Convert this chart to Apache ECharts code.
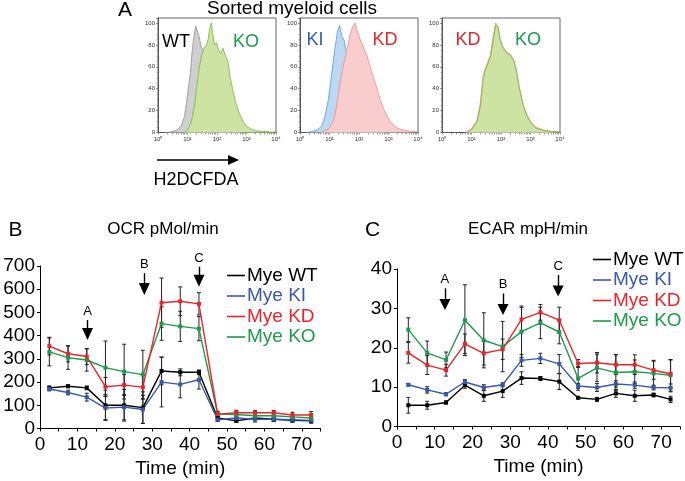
<!DOCTYPE html>
<html>
<head>
<meta charset="utf-8">
<script src="https://cdn.jsdelivr.net/npm/echarts@6.0.0/dist/echarts.min.js"></script>
<style>html,body{margin:0;padding:0;background:#fff}#c{width:685px;height:481px}</style>
</head>
<body>
<div id="c"></div>
<script>
// ---------- Panel A histograms: [log10 fluorescence, % of max] ----------
const h1WT = [[0.25,0],[0.40,0.3],[0.62,2],[0.79,6],[0.90,15],[0.98,30],[1.05,45],[1.10,55],[1.16,75],[1.22,88],[1.28,97],[1.33,93],[1.39,88],[1.45,80],[1.50,76],[1.56,70],[1.65,58],[1.80,35],[2.00,14],[2.20,5],[2.50,1],[2.80,0]];
const h1KO = [[0.90,0],[1.02,3],[1.13,10],[1.24,25],[1.32,42],[1.39,58],[1.47,70],[1.56,77],[1.64,80],[1.70,85],[1.75,95],[1.81,100],[1.86,90],[1.92,80],[1.98,82],[2.06,75],[2.13,72],[2.20,77],[2.29,70],[2.37,65],[2.45,50],[2.54,38],[2.63,28],[2.75,18],[2.88,10],[2.99,6],[3.16,3],[3.33,1.5],[3.56,1],[3.79,0.5],[4.0,0.3]];
const h2KI = [[0.20,0],[0.34,0.5],[0.57,2],[0.74,6],[0.85,15],[0.96,30],[1.08,55],[1.19,78],[1.27,92],[1.34,98],[1.42,88],[1.50,84],[1.59,70],[1.70,45],[1.87,20],[2.04,8],[2.27,2],[2.60,0.5],[2.9,0]];
const h2KD = [[0.68,0],[0.96,3],[1.13,10],[1.25,25],[1.36,45],[1.47,62],[1.59,75],[1.70,90],[1.79,97],[1.87,100],[1.95,92],[2.04,85],[2.15,78],[2.27,70],[2.38,60],[2.49,50],[2.61,40],[2.72,30],[2.83,22],[2.95,15],[3.06,10],[3.23,5],[3.40,3],[3.74,1],[4.0,0.5]];
const h3KD = [[0.80,0],[1.00,3.5],[1.18,11],[1.30,27],[1.39,51],[1.47,59],[1.55,64],[1.64,71],[1.73,87],[1.82,100],[1.90,97],[1.97,86],[2.05,79],[2.13,76],[2.22,73],[2.33,71],[2.44,66],[2.53,56],[2.61,43],[2.69,33],[2.78,23],[2.90,15],[3.03,9],[3.18,5],[3.41,2.5],[3.69,1],[4.0,0.4]];
const h3KO = [[0.85,0],[1.02,3],[1.19,10],[1.31,25],[1.40,50],[1.48,58],[1.56,63],[1.65,70],[1.74,85],[1.82,98],[1.90,96],[1.97,85],[2.05,78],[2.13,75],[2.22,72],[2.33,70],[2.44,65],[2.53,55],[2.61,42],[2.69,32],[2.78,22],[2.90,14],[3.03,8],[3.18,4],[3.41,2],[3.69,1],[4.0,0.3]];
const histTickLabels = ['10\u2070','10\u00b9','10\u00b2','10\u00b3','10\u2074'];

// ---------- Panels B and C ----------
const timeB = [2.5,7.5,12.5,17.5,22.5,27.5,32.5,37.5,42.5,47.5,52.5,57.5,62.5,67.5,72.5];
const timeC = [3,8,13,18,23,28,33,38,43,48,53,58,63,68,72.5];
const seriesNames = ['Mye WT','Mye KI','Mye KD','Mye KO'];
const colors = ['#000000','#3a5aa8','#e8252b','#1d9a4c'];

const ocrWT = [175,182,175,100,100,90,248,242,242,45,33,45,40,35,33];
const ocrKI = [170,155,135,88,92,82,200,190,210,38,45,40,40,38,35];
const ocrKD = [355,322,310,180,187,178,542,548,537,62,68,68,68,58,58];
const ocrKO = [330,305,295,262,245,232,452,440,430,62,60,55,55,50,45];
const ocrErrWT = [8,6,8,65,68,68,60,15,10,8,6,10,10,8,8];
const ocrErrKI = [8,10,17,50,55,60,107,58,40,8,8,12,10,6,12];
const ocrErrKD = [38,35,35,40,45,50,106,62,48,10,10,10,10,12,15];
const ocrErrKO = [60,50,48,115,118,105,72,65,52,10,12,15,12,10,15];

const ecarWT = [5.4,5.4,6.1,10.5,7.8,9.0,12.3,12.2,11.4,7.3,6.9,8.4,7.8,8.0,6.9];
const ecarKI = [10.6,9.3,8.2,11.3,9.9,10.6,16.8,17.3,15.9,10.3,9.9,10.8,10.5,9.9,9.8];
const ecarKD = [18.7,15.6,14.3,21.0,18.6,19.6,27.2,29.0,27.0,16.0,16.2,15.7,15.7,14.3,13.4];
const ecarKO = [24.6,18.7,16.9,27.0,21.9,20.3,24.1,26.3,24.0,12.2,14.9,13.7,13.9,13.5,13.0];
const ecarErrWT = [2,1,0.4,0.8,1.4,1.6,1.6,0.5,2,0.3,0.5,1,1.4,0.5,0.8];
const ecarErrKI = [0.3,0.8,0.4,0.6,0.7,0.5,1.5,1.3,2.4,0.6,1.0,0.8,0.8,0.6,1.0];
const ecarErrKD = [2.6,2.4,1.5,2.5,3,2.6,3,2,3.3,1.0,2.6,2.5,2.5,2.3,3.5];
const ecarErrKO = [3,3,2,9,7,6.4,6.5,4,3,3,3.5,4.6,3,3.3,4];

// injection arrows: [label, time, line top value, arrow-head centre value]
const ocrArrows = [['A',12.7,467,407],['B',27.9,669,601],['C',42.5,697,637]];
const ecarArrows = [['A',12.7,35.1,31.0],['B',28.1,33.8,29.7],['C',42.7,38.5,34.4]];

const FONT = 'Liberation Sans, Arial, Helvetica, sans-serif';

const chart = echarts.init(document.getElementById('c'), null, {renderer:'canvas'});

function zip(xs, ys){ return xs.map((x,i)=>[x, ys[i]]); }
function errData(xs, ys, es){ return xs.map((x,i)=>[x, ys[i]-es[i], ys[i]+es[i]]); }
function errRender(params, api){
  const x = api.value(0), lo = api.value(1), hi = api.value(2);
  const p1 = api.coord([x, hi]), p2 = api.coord([x, lo]);
  const w = 2, st = {stroke:'#222', lineWidth:1};
  return {type:'group', children:[
    {type:'line', shape:{x1:p1[0],y1:p1[1],x2:p2[0],y2:p2[1]}, style:st},
    {type:'line', shape:{x1:p1[0]-w,y1:p1[1],x2:p1[0]+w,y2:p1[1]}, style:st},
    {type:'line', shape:{x1:p2[0]-w,y1:p2[1],x2:p2[0]+w,y2:p2[1]}, style:st}
  ]};
}

const logTicks = [];
for (let d=0; d<4; d++) for (let m=1; m<10; m++) logTicks.push(d+Math.log10(m));
logTicks.push(4);

function histX(i){
  return {type:'value', gridIndex:i, min:0, max:4,
    axisLine:{show:true, lineStyle:{color:'#555', width:1}},
    axisTick:{show:true, length:2, lineStyle:{color:'#555', width:0.6}, customValues:logTicks},
    axisLabel:{customValues:[0,1,2,3,4], formatter:v=>histTickLabels[Math.round(v)], fontSize:6, color:'#333', margin:4, fontFamily:FONT},
    splitLine:{show:false}};
}
function histY(i){
  return {type:'value', gridIndex:i, min:0, max:104.6, interval:20,
    axisLine:{show:true, lineStyle:{color:'#555', width:1}},
    axisTick:{show:true, length:2, lineStyle:{color:'#555', width:0.6}},
    minorTick:{show:true, splitNumber:4, length:1.5, lineStyle:{color:'#777', width:0.5}},
    axisLabel:{formatter:v=> (v%20===0 ? String(v) : ''), fontSize:6, color:'#333', margin:3, fontFamily:FONT},
    splitLine:{show:false}};
}
function histSeries(i, data, fill, stroke, z){
  return {type:'line', xAxisIndex:i, yAxisIndex:i, data:data, showSymbol:false, symbol:'none',
    lineStyle:{color:stroke, width:0.8}, areaStyle:{color:fill, opacity:1}, z:z, silent:true, animation:false};
}

function lineSeries(idx, name, xs, ys, color){
  return {type:'line', name:name, xAxisIndex:idx, yAxisIndex:idx, data:zip(xs, ys),
    symbol:'rect', symbolSize:4, showSymbol:true, lineStyle:{color:color, width:1.4},
    itemStyle:{color:color}, z:4, animation:false};
}
function errSeries(idx, xs, ys, es){
  return {type:'custom', xAxisIndex:idx, yAxisIndex:idx, data:errData(xs, ys, es),
    renderItem:errRender, encode:{x:0, y:[1,2]}, z:3, silent:true, animation:false};
}
function arrowSeries(idx, arrows, fontSize, headSize){
  return {type:'line', xAxisIndex:idx, yAxisIndex:idx, data:[], animation:false, silent:true,
    markLine:{silent:true, animation:false, symbol:['none','triangle'], symbolSize:headSize,
      lineStyle:{color:'#000', width:1.4, type:'solid'},
      label:{show:true, position:'start', formatter:'{b}', color:'#000', fontSize:fontSize, fontFamily:FONT, distance:2},
      data: arrows.map(a=>[{name:a[0], coord:[a[1], a[2]]}, {coord:[a[1], a[3]]}])}};
}

function legendCfg(left, top, gap){
  return {left:left, top:top, orient:'vertical', icon:'rect', itemWidth:18, itemHeight:1.6, itemGap:gap, padding:0,
    textStyle:{fontSize:19, fontFamily:FONT, padding:[0,0,0,-3]},
    data: seriesNames.map((n,i)=>({name:n, textStyle:{color:colors[i]}})),
    selectedMode:false};
}

const mainX = (i, name)=>({type:'value', gridIndex:i, min:0, max:75, interval:10,
  axisLine:{show:true, lineStyle:{color:'#000', width:1}},
  axisTick:{show:true, length:3, lineStyle:{color:'#000'}},
  minorTick:{show:true, splitNumber:2, length:3, lineStyle:{color:'#000'}},
  axisLabel:{fontSize:19, color:'#000', fontFamily:FONT, margin:7, showMaxLabel:false},
  splitLine:{show:false}, minorSplitLine:{show:false},
  name:name, nameLocation:'middle', nameGap:31, nameTextStyle:{fontSize:19, color:'#000', fontFamily:FONT}});
const mainY = (i, max, interval)=>({type:'value', gridIndex:i, min:0, max:max, interval:interval,
  axisLine:{show:true, lineStyle:{color:'#000', width:1}},
  axisTick:{show:true, length:3, lineStyle:{color:'#000'}},
  axisLabel:{fontSize:19, color:'#000', fontFamily:FONT, margin:5},
  splitLine:{show:false}});

const gridBase = {containLabel:false, outerBoundsMode:'none'};
const option = {
  backgroundColor:'#fff',
  animation:false,
  grid:[
    Object.assign({left:158, top:18, width:118, height:114.5, show:true, borderColor:'#666', borderWidth:1, backgroundColor:'transparent'}, gridBase),
    Object.assign({left:300, top:18, width:118, height:114.5, show:true, borderColor:'#666', borderWidth:1, backgroundColor:'transparent'}, gridBase),
    Object.assign({left:442, top:18, width:118, height:114.5, show:true, borderColor:'#666', borderWidth:1, backgroundColor:'transparent'}, gridBase),
    Object.assign({left:40, top:266, width:280.5, height:162.5}, gridBase),
    Object.assign({left:397, top:269, width:283, height:157.5}, gridBase)
  ],
  xAxis:[histX(0), histX(1), histX(2), mainX(3,'Time (min)'), mainX(4,'Time (min)')],
  yAxis:[histY(0), histY(1), histY(2), mainY(3,700,100), mainY(4,40,10)],
  legend:[
    legendCfg(227, 266, 1.5),
    legendCfg(593, 250, 1.5)
  ],
  graphic:[
    {type:'text', x:125, y:10, style:{text:'A', fontSize:21, fontFamily:FONT, fill:'#000', align:'center', verticalAlign:'middle'}},
    {type:'text', x:292, y:9, style:{text:'Sorted myeloid cells', fontSize:19, fontFamily:FONT, fill:'#000', align:'center', verticalAlign:'middle'}},
    {type:'text', x:176, y:42, z:10, style:{text:'WT', fontSize:18, fontFamily:FONT, fill:'#000', align:'center', verticalAlign:'middle'}},
    {type:'text', x:246, y:42, z:10, style:{text:'KO', fontSize:18, fontFamily:FONT, fill:'#1d9a4c', align:'center', verticalAlign:'middle'}},
    {type:'text', x:315, y:40, z:10, style:{text:'KI', fontSize:18, fontFamily:FONT, fill:'#2f5fae', align:'center', verticalAlign:'middle'}},
    {type:'text', x:385, y:40, z:10, style:{text:'KD', fontSize:18, fontFamily:FONT, fill:'#e0282e', align:'center', verticalAlign:'middle'}},
    {type:'text', x:468, y:40, z:10, style:{text:'KD', fontSize:18, fontFamily:FONT, fill:'#e0282e', align:'center', verticalAlign:'middle'}},
    {type:'text', x:528, y:40, z:10, style:{text:'KO', fontSize:18, fontFamily:FONT, fill:'#1d9a4c', align:'center', verticalAlign:'middle'}},
    {type:'line', shape:{x1:157, y1:160, x2:230, y2:160}, style:{stroke:'#000', lineWidth:1.4}},
    {type:'polygon', shape:{points:[[228,155],[239,160],[228,165]]}, style:{fill:'#000'}},
    {type:'text', x:196, y:180, style:{text:'H2DCFDA', fontSize:18, fontFamily:FONT, fill:'#000', align:'center', verticalAlign:'middle'}},
    {type:'text', x:15.5, y:230, style:{text:'B', fontSize:21, fontFamily:FONT, fill:'#000', align:'center', verticalAlign:'middle'}},
    {type:'text', x:163, y:229, style:{text:'OCR pMol/min', fontSize:17, fontFamily:FONT, fill:'#000', align:'center', verticalAlign:'middle'}},
    {type:'text', x:372.5, y:230, style:{text:'C', fontSize:21, fontFamily:FONT, fill:'#000', align:'center', verticalAlign:'middle'}},
    {type:'text', x:528, y:229, style:{text:'ECAR mpH/min', fontSize:17, fontFamily:FONT, fill:'#000', align:'center', verticalAlign:'middle'}}
  ],
  series:[
    histSeries(0, h1WT, '#cfcfcf', '#8f8f8f', 2),
    histSeries(0, h1KO, '#cde3a4', '#7cb342', 3),
    histSeries(1, h2KI, '#bcd8f2', '#5a9ad6', 2),
    histSeries(1, h2KD, '#f9cdcd', '#ef8c8c', 3),
    histSeries(2, h3KD, '#f9cdcd', '#ef8c8c', 2),
    histSeries(2, h3KO, '#cde3a4', '#7cb342', 3),

    errSeries(3, timeB, ocrWT, ocrErrWT),
    errSeries(3, timeB, ocrKI, ocrErrKI),
    errSeries(3, timeB, ocrKD, ocrErrKD),
    errSeries(3, timeB, ocrKO, ocrErrKO),
    lineSeries(3, 'Mye WT', timeB, ocrWT, colors[0]),
    lineSeries(3, 'Mye KI', timeB, ocrKI, colors[1]),
    lineSeries(3, 'Mye KO', timeB, ocrKO, colors[3]),
    lineSeries(3, 'Mye KD', timeB, ocrKD, colors[2]),
    arrowSeries(3, ocrArrows, 13, [11,12]),

    errSeries(4, timeC, ecarWT, ecarErrWT),
    errSeries(4, timeC, ecarKI, ecarErrKI),
    errSeries(4, timeC, ecarKD, ecarErrKD),
    errSeries(4, timeC, ecarKO, ecarErrKO),
    lineSeries(4, 'Mye WT', timeC, ecarWT, colors[0]),
    lineSeries(4, 'Mye KI', timeC, ecarKI, colors[1]),
    lineSeries(4, 'Mye KO', timeC, ecarKO, colors[3]),
    lineSeries(4, 'Mye KD', timeC, ecarKD, colors[2]),
    arrowSeries(4, ecarArrows, 13, [11,11])
  ]
};
chart.setOption(option);
</script>
</body>
</html>
